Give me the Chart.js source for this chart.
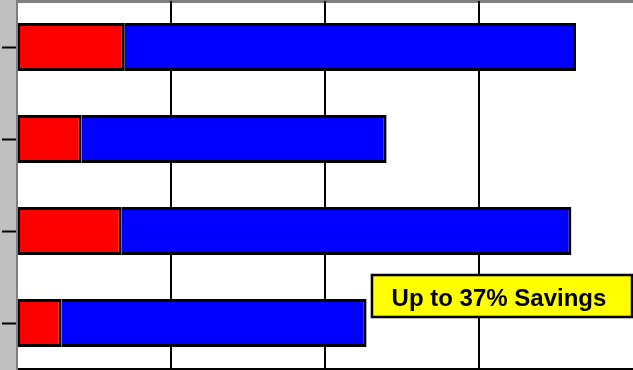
<!DOCTYPE html>
<html>
<head>
<meta charset="utf-8">
<script src="https://cdn.jsdelivr.net/npm/chart.js@4/dist/chart.umd.min.js"></script>
<style>
  html, body { margin: 0; padding: 0; overflow: hidden; background: #c0c0c0; }
  #wrap { width: 633px; height: 370px; }
</style>
</head>
<body>
<div id="wrap"><canvas id="savingsChart"></canvas></div>
<script>
// four runs, each split into the red and blue portions
const categories = ['A', 'B', 'C', 'D'];
const redValues = [70, 42, 68, 29];
const blueValues = [293, 198, 292, 198];
const axisTicks = [0, 100, 200, 300, 400];
const calloutText = 'Up to 37% Savings';

// gray frame around the plot, white plot area
const frame = {
    id: 'frame',
    beforeDraw(chart) {
        const { ctx, chartArea: a, width, height } = chart;
        ctx.save();
        ctx.fillStyle = '#c0c0c0';
        ctx.fillRect(0, 0, width, height);
        ctx.fillStyle = '#ffffff';
        ctx.fillRect(a.left, a.top, a.right - a.left, a.bottom - a.top);
        ctx.fillStyle = '#808080';
        ctx.fillRect(a.left - 1, 0, width - a.left + 1, 3);
        ctx.restore();
    }
};

// yellow callout box in the lower right
const callout = {
    id: 'callout',
    afterDraw(chart) {
        const { ctx, chartArea: a } = chart;
        const x = chart.scales.x;
        const left = x.getPixelForValue(230.5);
        const right = a.right - 1;
        const top = 275, bottom = 317;
        ctx.save();
        ctx.fillStyle = '#ffff00';
        ctx.fillRect(left, top, right - left, bottom - top);
        ctx.lineWidth = 2.5;
        ctx.strokeStyle = '#000000';
        ctx.strokeRect(left, top, right - left, bottom - top);
        ctx.fillStyle = '#000000';
        ctx.font = 'bold 24px "Liberation Sans", Arial, sans-serif';
        ctx.textAlign = 'center';
        ctx.textBaseline = 'alphabetic';
        ctx.fillText(calloutText, (left + right) / 2 - 3, 306);
        ctx.restore();
    }
};

window.onload = function () {
    const ctx = document.getElementById('savingsChart').getContext('2d');
    new Chart(ctx, {
        type: 'bar',
        data: {
            labels: categories,
            datasets: [{
                data: redValues,
                backgroundColor: '#ff0000',
                borderColor: '#000000',
                borderWidth: { top: 3, bottom: 3, left: 2, right: 3 },
                borderSkipped: false
            }, {
                data: blueValues,
                backgroundColor: '#0000ff',
                borderColor: '#000000',
                borderWidth: { top: 3, bottom: 3, right: 3, left: 0 },
                borderSkipped: false
            }]
        },
        options: {
            indexAxis: 'y',
            responsive: true,
            maintainAspectRatio: false,
            animation: false,
            layout: { padding: { left: 2, top: 1, bottom: 1, right: 0 } },
            datasets: { bar: { barPercentage: 0.52, categoryPercentage: 1 } },
            plugins: {
                legend: { display: false },
                tooltip: { enabled: false }
            },
            scales: {
                x: {
                    stacked: true,
                    min: axisTicks[0],
                    max: axisTicks[axisTicks.length - 1],
                    afterBuildTicks: (scale) => { scale.ticks = axisTicks.map(v => ({ value: v })); },
                    ticks: { display: false },
                    grid: {
                        drawTicks: false,
                        lineWidth: 2,
                        color: (c) => (c.tick && (c.tick.value === 0 || c.tick.value === 400)) ? 'rgba(0,0,0,0)' : '#000000'
                    },
                    border: { color: '#000000', width: 2 }
                },
                y: {
                    stacked: true,
                    ticks: { display: false },
                    grid: {
                        offset: false,
                        drawOnChartArea: false,
                        drawTicks: true,
                        tickLength: 15,
                        tickWidth: 2,
                        color: '#000000'
                    },
                    border: { color: '#808080', width: 2 }
                }
            }
        },
        plugins: [frame, callout]
    });
};
</script>
</body>
</html>
